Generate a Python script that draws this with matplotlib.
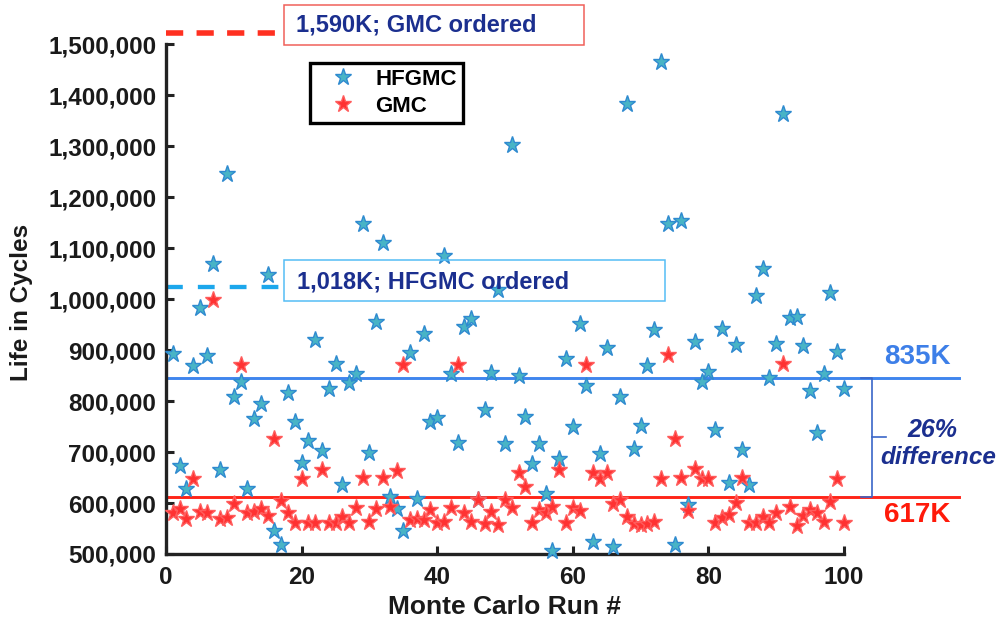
import matplotlib
matplotlib.use("Agg")
import matplotlib.pyplot as plt
from matplotlib.patches import Rectangle
import numpy as np

# Monte Carlo run numbers and life values (thousands of cycles)
runs = list(range(1, 101))
hfgmc_k = [892, 673, 627, 869, 983, 889, 1069, 665, 1245, 808,
           837, 628, 764, 795, 1047, 545, 517, 815, 758, 678,
           721, 919, 702, 823, 873, 635, 835, 852, 1147, 699,
           955, 1109, 612, 589, 546, 895, 607, 932, 759, 766,
           1084, 852, 717, 945, 960, 605, 782, 854, 1017, 716,
           1302, 849, 768, 676, 716, 618, 505, 686, 882, 750,
           951, 830, 523, 696, 904, 513, 808, 1382, 706, 751,
           869, 940, 1464, 1147, 518, 1152, 597, 916, 838, 857,
           744, 941, 639, 909, 703, 635, 1005, 1058, 846, 912,
           1362, 962, 965, 907, 820, 738, 853, 1012, 897, 824]
gmc_k = [580, 588, 568, 647, 583, 580, 998, 568, 570, 599,
         871, 581, 583, 588, 575, 725, 603, 580, 560, 647,
         560, 560, 665, 560, 560, 573, 561, 590, 650, 563,
         588, 650, 592, 663, 871, 567, 568, 567, 586, 560,
         563, 590, 870, 580, 563, 606, 559, 583, 557, 606,
         590, 658, 631, 561, 586, 581, 593, 665, 561, 590,
         585, 871, 659, 648, 658, 598, 605, 573, 559, 557,
         559, 563, 647, 890, 725, 649, 584, 666, 648, 647,
         561, 570, 577, 600, 650, 561, 561, 572, 561, 580,
         872, 592, 555, 575, 586, 581, 563, 602, 648, 561]

# reference lines (where they sit on the chart)
hfgmc_mean = 846000
gmc_mean = 612000
hfgmc_ordered = 1023000
gmc_ordered = 1522000   # off scale value, drawn just above the axis

yticks = [500000, 600000, 700000, 800000, 900000, 1000000,
          1100000, 1200000, 1300000, 1400000, 1500000]
xticks = [0, 20, 40, 60, 80, 100]

hfgmc = np.array(hfgmc_k) * 1000
gmc = np.array(gmc_k) * 1000

blue_face = "#48b4c6"
blue_edge = "#2f8ad0"
red_face = "#ff3232"
red_edge = "#ff5c5c"
navy = "#1b2f8f"
font = "Liberation Sans"

fig = plt.figure(figsize=(10, 6.28), dpi=100)
ax = fig.add_axes([0.166, 1 - 554 / 628, 0.678, 510 / 628])

# mean lines run past the right edge of the axes
ax.plot([0, 117], [hfgmc_mean, hfgmc_mean], color="#3f85ee", lw=2.1, clip_on=False, zorder=1)
ax.plot([0, 117], [gmc_mean, gmc_mean], color="#ff2418", lw=2.1, clip_on=False, zorder=1)

# dashed "ordered" markers
ax.plot([0, 17], [hfgmc_ordered, hfgmc_ordered], color="#1ca7ec", lw=3.1,
        dashes=(3.9, 3.5), clip_on=False, zorder=1)
ax.plot([0, 17], [gmc_ordered, gmc_ordered], color="#ff3020", lw=4.0,
        dashes=(3.1, 2.4), clip_on=False, zorder=1)

ax.plot(runs, hfgmc, "*", ms=12.5, mfc=blue_face, mec=blue_edge, mew=1.0,
        label="HFGMC", clip_on=False, zorder=3)
ax.plot(runs, gmc, "*", ms=12.5, mfc=red_face, mec=red_edge, mew=1.0,
        label="GMC", clip_on=False, zorder=4)

# brace between the two means
mid = (hfgmc_mean + gmc_mean) / 2
ax.plot([102.5, 104.1, 104.1, 102.5], [hfgmc_mean, hfgmc_mean, gmc_mean, gmc_mean],
        color="#3a66c8", lw=1.2, clip_on=False)
ax.plot([104.1, 106.2], [mid, mid], color="#3a66c8", lw=1.2, clip_on=False)

ax.set_xlim(0, 100)
ax.set_ylim(500000, 1500000)
ax.set_xticks(xticks)
ax.set_yticks(yticks)
ax.set_yticklabels([f"{v:,}" for v in yticks])
for lab in ax.get_xticklabels() + ax.get_yticklabels():
    lab.set_fontfamily(font)
    lab.set_fontweight("bold")
    lab.set_fontsize(17.5)
    lab.set_color("#1a1a1a")
ax.tick_params(direction="in", length=6, width=2.2, color="#222222")
ax.tick_params(axis="y", pad=7)
ax.tick_params(axis="x", pad=9)

for side in ["top", "right"]:
    ax.spines[side].set_visible(False)
for side in ["left", "bottom"]:
    ax.spines[side].set_linewidth(2.4)
    ax.spines[side].set_color("#222222")

fig.text(0.022, 1 - 302 / 628, "Life in Cycles", rotation=90, ha="center", va="center",
         fontsize=17.5, fontweight="bold", family=font, color="#1a1a1a")
fig.text(0.505, 1 - 607 / 628, "Monte Carlo Run #", ha="center", va="center",
         fontsize=19, fontweight="bold", family=font, color="#1a1a1a")

leg = ax.legend(loc="upper left", bbox_to_anchor=(0.310, 1 - 63 / 628),
                bbox_transform=fig.transFigure, borderaxespad=0, borderpad=0.25,
                handlelength=2.5, handletextpad=0.2, labelspacing=0.3,
                fancybox=False, edgecolor="black",
                prop={"family": font, "weight": "bold", "size": 16})
leg.get_frame().set_linewidth(2.4)
leg.get_frame().set_alpha(1)

# label boxes for the "ordered" lines
fig.add_artist(Rectangle((0.284, 1 - 45 / 628), 0.300, 40 / 628, transform=fig.transFigure,
                         fill=False, ec="#f0605a", lw=1.1))
fig.text(0.296, 1 - 25 / 628, "1,590K; GMC ordered", ha="left", va="center",
         fontsize=17, fontweight="bold", family=font, color=navy)
fig.add_artist(Rectangle((0.284, 1 - 301 / 628), 0.381, 41 / 628, transform=fig.transFigure,
                         fill=False, ec="#55bdf5", lw=1.1))
fig.text(0.297, 1 - 282 / 628, "1,018K; HFGMC ordered", ha="left", va="center",
         fontsize=17, fontweight="bold", family=font, color=navy)

fig.text(0.884, 1 - 357 / 628, "835K", ha="left", va="center",
         fontsize=20, fontweight="bold", family=font, color="#3d7fe8")
fig.text(0.884, 1 - 515 / 628, "617K", ha="left", va="center",
         fontsize=20, fontweight="bold", family=font, color="#ff1a0a")
fig.text(0.932, 1 - 430 / 628, "26%", ha="center", va="center", style="italic",
         fontsize=18, fontweight="bold", family=font, color=navy)
fig.text(0.938, 1 - 457 / 628, "difference", ha="center", va="center", style="italic",
         fontsize=17.5, fontweight="bold", family=font, color=navy)

fig.savefig("out.png", dpi=100)
